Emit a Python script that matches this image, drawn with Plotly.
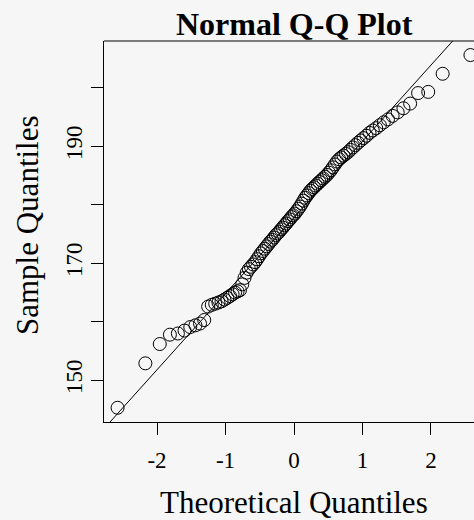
import plotly.graph_objects as go
from statistics import NormalDist

# Sorted sample values
sample_values = [
    145.3, 152.9, 156.2, 157.8, 158.0, 158.5, 159.1, 159.4, 159.7, 160.3,
    162.6, 162.9, 163.1, 163.3, 163.5, 163.8, 164.1, 164.4, 164.7, 165.0,
    165.2, 165.4, 166.4, 167.5, 168.4, 169.0, 169.4, 169.8, 170.2, 170.7,
    171.2, 171.7, 172.1, 172.5, 172.9, 173.3, 173.7, 174.0, 174.4, 174.8,
    175.1, 175.4, 175.8, 176.1, 176.5, 176.8, 177.2, 177.5, 177.9, 178.2,
    178.5, 178.9, 179.3, 179.7, 180.2, 180.7, 181.2, 181.6, 182.0, 182.4,
    182.7, 183.0, 183.3, 183.6, 183.9, 184.2, 184.5, 184.8, 185.1, 185.5,
    185.9, 186.4, 186.9, 187.4, 187.8, 188.1, 188.4, 188.7, 189.0, 189.4,
    189.8, 190.2, 190.6, 191.0, 191.4, 191.8, 192.3, 192.7, 193.1, 193.6,
    194.1, 194.6, 195.2, 195.8, 196.5, 197.3, 199.1, 199.3, 202.4, 205.6,
]

# Reference line
line_intercept = 177.84
line_slope = 13.02

x_tick_vals = [-2, -1, 0, 1, 2]
x_tick_text = ["-2", "-1", "0", "1", "2"]
y_tick_vals = [150, 160, 170, 180, 190, 200]
y_tick_text = ["150", "", "170", "", "190", ""]

title_text = "<b>Normal Q-Q Plot</b>"
x_title = "Theoretical Quantiles"
y_title = "Sample Quantiles"

n = len(sample_values)
theoretical = [NormalDist().inv_cdf((i + 0.5) / n) for i in range(n)]

x_range = [-2.774, 2.628]
y_range = [142.87, 208.0]

FONT = "Liberation Serif"
BG = "#f6f6f6"

fig = go.Figure()
fig.add_trace(go.Scatter(
    x=x_range,
    y=[line_intercept + line_slope * v for v in x_range],
    mode="lines",
    line=dict(color="black", width=1),
    hoverinfo="skip",
    showlegend=False,
))
fig.add_trace(go.Scatter(
    x=theoretical,
    y=sample_values,
    mode="markers",
    marker=dict(symbol="circle-open", size=13, color="black",
                line=dict(color="black", width=1)),
    showlegend=False,
))

fig.update_layout(
    width=474, height=520,
    margin=dict(l=104, r=0, t=41, b=98),
    paper_bgcolor=BG, plot_bgcolor=BG,
    font=dict(family=FONT, color="black", size=23),
    xaxis=dict(
        range=x_range, showgrid=False, zeroline=False,
        showline=True, linecolor="black", linewidth=1,
        ticks="outside", ticklen=12, tickwidth=1, tickcolor="black",
        tickvals=x_tick_vals, ticktext=x_tick_text,
        tickfont=dict(family=FONT, size=23),
        ticklabelstandoff=5,
    ),
    yaxis=dict(
        range=y_range, showgrid=False, zeroline=False,
        showline=True, linecolor="black", linewidth=1,
        ticks="outside", ticklen=12, tickwidth=1, tickcolor="black",
        tickvals=y_tick_vals, ticktext=y_tick_text,
        tickangle=-90,
        tickfont=dict(family=FONT, size=23),
        ticklabelstandoff=0,
    ),
    shapes=[dict(type="line", xref="paper", yref="paper",
                 x0=0, x1=1, y0=1, y1=1,
                 line=dict(color="black", width=1))],
    annotations=[
        dict(text=title_text, xref="paper", yref="paper",
             x=(294 - 104) / 370, y=1, yshift=17, yanchor="middle",
             xanchor="center", showarrow=False,
             font=dict(family=FONT, size=32)),
        dict(text=x_title, xref="paper", yref="paper",
             x=(294 - 104) / 370, y=0, yshift=-80, yanchor="middle",
             xanchor="center", showarrow=False,
             font=dict(family=FONT, size=31)),
        dict(text=y_title, xref="paper", yref="paper",
             x=0, xshift=-77, y=(422 - 225) / 381, yanchor="middle",
             xanchor="center", textangle=-90, showarrow=False,
             font=dict(family=FONT, size=31)),
    ],
)

fig.write_html(
    "out.html",
    config={"displayModeBar": False},
    post_script="document.body.style.margin='0';document.body.style.overflow='hidden';",
)
